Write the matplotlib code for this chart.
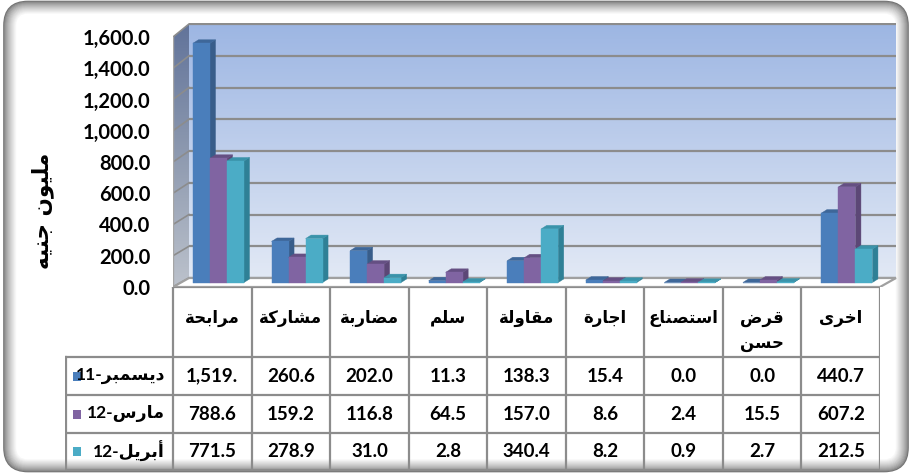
import matplotlib
matplotlib.use('Agg')
import matplotlib.pyplot as plt
import numpy as np
from matplotlib.patches import Polygon, Rectangle, FancyBboxPatch
from matplotlib.colors import LinearSegmentedColormap
from matplotlib.ticker import FuncFormatter

# ---------------- data ----------------
categories = ['مرابحة', 'مشاركة', 'مضاربة', 'سلم', 'مقاولة', 'اجارة', 'استصناع', 'قرض حسن', 'اخرى']
series_names = ['ديسمبر-11', 'مارس-12', 'أبريل-12']
dec11 = [1519.0, 260.6, 202.0, 11.3, 138.3, 15.4, 0.0, 0.0, 440.7]
mar12 = [788.6, 159.2, 116.8, 64.5, 157.0, 8.6, 2.4, 15.5, 607.2]
apr12 = [771.5, 278.9, 31.0, 2.8, 340.4, 8.2, 0.9, 2.7, 212.5]
y_ticks = [0, 200, 400, 600, 800, 1000, 1200, 1400, 1600]
y_title = 'مليون جنيه'

front_colors = ['#4A7EBB', '#8064A2', '#4BACC6']
side_colors = ['#385D8A', '#5C4776', '#2F8096']
top_colors = ['#3E6799', '#654F83', '#3A93AA']

# ---------------- Arabic shaping (logical -> presentation forms, visual order) ----------------
_F = {
    '\u0627': ('\uFE8D', '\uFE8E', None, None),
    '\u0623': ('\uFE83', '\uFE84', None, None),
    '\u0628': ('\uFE8F', '\uFE90', '\uFE91', '\uFE92'),
    '\u0629': ('\uFE93', '\uFE94', None, None),
    '\u062A': ('\uFE95', '\uFE96', '\uFE97', '\uFE98'),
    '\u062C': ('\uFE9D', '\uFE9E', '\uFE9F', '\uFEA0'),
    '\u062D': ('\uFEA1', '\uFEA2', '\uFEA3', '\uFEA4'),
    '\u062E': ('\uFEA5', '\uFEA6', '\uFEA7', '\uFEA8'),
    '\u062F': ('\uFEA9', '\uFEAA', None, None),
    '\u0631': ('\uFEAD', '\uFEAE', None, None),
    '\u0633': ('\uFEB1', '\uFEB2', '\uFEB3', '\uFEB4'),
    '\u0634': ('\uFEB5', '\uFEB6', '\uFEB7', '\uFEB8'),
    '\u0635': ('\uFEB9', '\uFEBA', '\uFEBB', '\uFEBC'),
    '\u0636': ('\uFEBD', '\uFEBE', '\uFEBF', '\uFEC0'),
    '\u0639': ('\uFEC9', '\uFECA', '\uFECB', '\uFECC'),
    '\u0642': ('\uFED5', '\uFED6', '\uFED7', '\uFED8'),
    '\u0643': ('\uFED9', '\uFEDA', '\uFEDB', '\uFEDC'),
    '\u0644': ('\uFEDD', '\uFEDE', '\uFEDF', '\uFEE0'),
    '\u0645': ('\uFEE1', '\uFEE2', '\uFEE3', '\uFEE4'),
    '\u0646': ('\uFEE5', '\uFEE6', '\uFEE7', '\uFEE8'),
    '\u0647': ('\uFEE9', '\uFEEA', '\uFEEB', '\uFEEC'),
    '\u0648': ('\uFEED', '\uFEEE', None, None),
    '\u0649': ('\uFEEF', '\uFEF0', None, None),
    '\u064A': ('\uFEF1', '\uFEF2', '\uFEF3', '\uFEF4'),
}


def _shape_logical(s):
    out = []
    for i, c in enumerate(s):
        if c not in _F:
            out.append(c)
            continue
        iso, fin, ini, med = _F[c]
        prev = s[i - 1] if i > 0 else None
        nxt = s[i + 1] if i < len(s) - 1 else None
        jp = prev in _F and _F[prev][2] is not None
        jn = nxt in _F and ini is not None
        if jp and jn:
            out.append(med)
        elif jp:
            out.append(fin)
        elif jn:
            out.append(ini)
        else:
            out.append(iso)
    return ''.join(out)


def ar(s):
    s = _shape_logical(s)
    segs, cur, cur_d = [], '', None
    for c in s:
        d = c.isdigit()
        if cur and d != cur_d:
            segs.append((cur, cur_d))
            cur = ''
        cur += c
        cur_d = d
    if cur:
        segs.append((cur, cur_d))
    return ''.join(t if d else t[::-1] for t, d in reversed(segs))


def fmt_cell(v):
    t = '{:,.1f}'.format(v)
    return t[:-1] if v >= 1000 else t


# ---------------- figure ----------------
W, H = 910, 475
fig = plt.figure(figsize=(W / 100, H / 100), dpi=100)
fig.patch.set_facecolor('white')

# frame
bg = fig.add_axes([0, 0, 1, 1], zorder=-5)
bg.set_xlim(0, W)
bg.set_ylim(H, 0)
bg.axis('off')
n_steps = 14
for k in range(n_steps):
    t = (k / (n_steps - 1)) ** 0.7
    g = 0.45 + 0.55 * t
    fc = 'white' if k == n_steps - 1 else 'none'
    bg.add_patch(FancyBboxPatch((4 + k, 1.5 + k), 904 - 2 * k, 470 - 2 * k,
                                boxstyle='round,pad=0,rounding_size=%g' % max(24 - k, 3),
                                fc=fc, ec=(g, g, g), lw=1.2))

PXC = 707 / 9.0        # pixels per category
UPP = 6.4              # value units per pixel (front plane)
ax = fig.add_axes([173 / W, 1 - 287 / H, 724 / W, 264 / H])
ax.set_facecolor('none')
XMAX = 724 / PXC
YMAX = 264 * UPP

DX = 16 / PXC
DY0 = 9 * UPP
K = 1.016
NC = len(categories)


def back_y(v):
    return DY0 + v * K


vmax = y_ticks[-1]
# back wall gradient
wall_cmap = LinearSegmentedColormap.from_list('wall', ['#E2E9F5', '#9DB6E3'])
grad = np.linspace(0, 1, 256).reshape(-1, 1)
wall = Polygon([(DX, back_y(0)), (NC + DX, back_y(0)), (NC + DX, back_y(vmax)), (DX, back_y(vmax))],
               closed=True, fc='none', ec='none')
ax.add_patch(wall)
im = ax.imshow(grad, cmap=wall_cmap, origin='lower', aspect='auto',
               extent=(DX, NC + DX, back_y(0), back_y(vmax)), zorder=0)
im.set_clip_path(wall)

# side wall gradient
side_cmap = LinearSegmentedColormap.from_list('side', ['#BCC2CC', '#8E9AB0', '#61739A'])
side = Polygon([(0, 0), (DX, back_y(0)), (DX, back_y(vmax)), (0, vmax)], closed=True, fc='none', ec='none')
ax.add_patch(side)
im2 = ax.imshow(grad, cmap=side_cmap, origin='lower', aspect='auto',
                extent=(0, DX, 0, back_y(vmax)), zorder=0)
im2.set_clip_path(side)

# gridlines
gcol = '#8C8C8C'
for v in y_ticks:
    ax.plot([DX, NC + DX], [back_y(v), back_y(v)], color=gcol, lw=1.6, zorder=1, solid_capstyle='butt')
    ax.plot([0, DX], [v, back_y(v)], color=gcol, lw=1.2, zorder=1)
ax.plot([0, 0], [0, vmax], color='#A6A6A6', lw=1.0, zorder=1)

# floor
floor = Polygon([(0, 0), (NC, 0), (NC + DX, back_y(0)), (DX, back_y(0))], closed=True,
                fc='white', ec='#A0A0A0', lw=1.6, zorder=1.5)
ax.add_patch(floor)

# bars
FD = 0.5
OFF = 12 / PXC
BW = 17 / PXC
SDX = 5.5 / PXC
SDY = 3.5 * UPP
base = FD * DY0
scale = 1 + FD * (K - 1)
series = [dec11, mar12, apr12]
for i in range(NC):
    for j, vals in enumerate(series):
        h = vals[i] * scale
        x0 = i + FD * DX + OFF + j * BW
        x1 = x0 + BW
        ax.add_patch(Polygon([(x1, base), (x1 + SDX, base + SDY), (x1 + SDX, base + h + SDY), (x1, base + h)],
                             closed=True, fc=side_colors[j], ec=side_colors[j], lw=0.3, zorder=3))
        ax.add_patch(Polygon([(x0, base + h), (x1, base + h), (x1 + SDX, base + h + SDY), (x0 + SDX, base + h + SDY)],
                             closed=True, fc=top_colors[j], ec=top_colors[j], lw=0.3, zorder=3))
        ax.add_patch(Rectangle((x0, base), BW, h, fc=front_colors[j], ec=front_colors[j], lw=0.3, zorder=3))

ax.set_xlim(0, XMAX)
ax.set_ylim(0, YMAX)
ax.set_frame_on(False)
ax.set_xticks([])
ax.set_yticks(y_ticks)
ax.yaxis.set_major_formatter(FuncFormatter(lambda v, p: '{:,.1f}'.format(v)))
ax.tick_params(axis='y', length=0, pad=16.5)
for lab in ax.get_yticklabels():
    lab.set_fontfamily('Lato')
    lab.set_fontweight('bold')
    lab.set_fontsize(14.5)
ax.set_ylabel(ar(y_title), family='DejaVu Sans', fontweight='bold', fontsize=15.5)
ax.yaxis.set_label_coords((43 - 173) / 724, (287 - 211) / 264)
ax.yaxis.label.set_va('center')

# ---------------- data table ----------------
tb = fig.add_axes([65 / W, 1 - 472 / H, 815 / W, 185 / H])
tb.set_facecolor('none')
LEFT = -108 / PXC
tb.set_xlim(LEFT, NC)
tb.set_ylim(185, 0)
tb.axis('off')
row_edges = [70, 108, 146, 183]
lc = '#8C8C8C'
tb.plot([0, NC], [0, 0], color=lc, lw=1.6)
for i in range(NC + 1):
    tb.plot([i, i], [0, row_edges[-1]], color=lc, lw=1.6)
tb.plot([LEFT + 0.01, LEFT + 0.01], [row_edges[0], row_edges[-1]], color=lc, lw=1.6)
for y in row_edges:
    tb.plot([LEFT, NC], [y, y], color=lc, lw=1.6)

for i, c in enumerate(categories):
    for k, w in enumerate(c.split(' ')):
        tb.text(i + 0.5, 31 + 25 * k, ar(w), ha='center', va='center', family='DejaVu Sans',
                fontweight='bold', fontsize=12)

for j, (nm, vals) in enumerate(zip(series_names, series)):
    yc = (row_edges[j] + row_edges[j + 1]) / 2
    for i, v in enumerate(vals):
        tb.text(i + 0.5, yc, fmt_cell(v), ha='center', va='center', family='Lato', fontweight='bold', fontsize=13.5)
    tb.add_patch(Rectangle((LEFT + 8 / PXC, yc - 4.5), 8 / PXC, 9, fc=front_colors[j], ec='none'))
    tb.text(-8 / PXC, yc, ar(nm), ha='right', va='center', family=['Lato', 'DejaVu Sans'],
            fontweight='bold', fontsize=12.5)

fig.savefig('out.png', dpi=100)
